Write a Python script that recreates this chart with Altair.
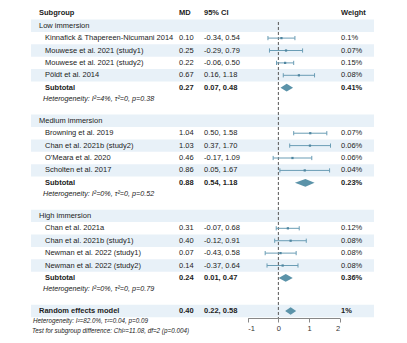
import altair as alt
import pandas as pd

# ---------------- data ----------------
group_names = ["Low immersion", "Medium immersion", "High immersion"]
study_names = [
    ["Kinnafick & Thapereen-Nicumani 2014", "Mouwese et al. 2021 (study1)",
     "Mouwese et al. 2021 (study2)", "Pöldt et al. 2014"],
    ["Browning et al. 2019", "Chan et al. 2021b (study2)",
     "O'Meara et al. 2020", "Scholten et al. 2017"],
    ["Chan et al. 2021a", "Chan et al. 2021b (study1)",
     "Newman et al. 2022 (study1)", "Newman et al. 2022 (study2)"],
]
study_md = [[0.10, 0.25, 0.22, 0.67], [1.04, 1.03, 0.46, 0.86], [0.31, 0.40, 0.07, 0.14]]
study_lo = [[-0.34, -0.29, -0.06, 0.16], [0.50, 0.37, -0.17, 0.05], [-0.07, -0.12, -0.43, -0.37]]
study_hi = [[0.54, 0.79, 0.50, 1.18], [1.58, 1.70, 1.09, 1.67], [0.68, 0.91, 0.58, 0.64]]
study_w = [["0.1%", "0.07%", "0.15%", "0.08%"], ["0.07%", "0.06%", "0.06%", "0.04%"],
           ["0.12%", "0.08%", "0.08%", "0.08%"]]
sub_md = [0.27, 0.88, 0.24]
sub_lo = [0.07, 0.54, 0.01]
sub_hi = [0.48, 1.18, 0.47]
sub_w = ["0.41%", "0.23%", "0.36%"]
het_text = ["Heterogeneity: I²=4%, τ²=0, p=0.38",
            "Heterogeneity: I²=0%, τ²=0, p=0.52",
            "Heterogeneity: I²=0%, τ²=0, p=0.79"]
overall_label = "Random effects model"
overall_md, overall_lo, overall_hi, overall_w = 0.40, 0.22, 0.58, "1%"
overall_notes = ["Heterogeneity: I²=82.0%, τ²=0.04, p=0.09",
                 "Test for subgroup difference: Chi²=11.08, df=2 (p=0.004)"]
headers = ["Subgroup", "MD", "95% CI", "Weight"]
x_ticks = [-1, 0, 1, 2]

# ---------------- layout (row units) ----------------
PERIOD = 7.67
HET_OFF = 5.93
rows = []
for g, gname in enumerate(group_names):
    base = g * PERIOD
    rows.append(dict(p=base, kind="group", name=gname, shaded=True))
    for i, s in enumerate(study_names[g]):
        rows.append(dict(p=base + 1 + i, kind="study", name=s, md=study_md[g][i],
                         lo=study_lo[g][i], hi=study_hi[g][i], w=study_w[g][i],
                         shaded=(i % 2 == 1)))
    rows.append(dict(p=base + 5, kind="subtotal", name="Subtotal", md=sub_md[g],
                     lo=sub_lo[g], hi=sub_hi[g], w=sub_w[g], shaded=False))
    rows.append(dict(p=base + HET_OFF, kind="het", name=het_text[g], shaded=False))
op = 3 * PERIOD
rows.append(dict(p=op, kind="overall", name=overall_label, md=overall_md,
                 lo=overall_lo, hi=overall_hi, w=overall_w, shaded=True))
rows.append(dict(p=op + 0.81, kind="note", name=overall_notes[0], shaded=False))
rows.append(dict(p=op + 1.62, kind="note2", name=overall_notes[1], shaded=False))
df = pd.DataFrame(rows)
df["mdt"] = df["md"].map(lambda v: f"{v:.2f}" if pd.notna(v) else "")
df["cit"] = df.apply(lambda r: f"{r['lo']:.2f}, {r['hi']:.2f}" if pd.notna(r["lo"]) else "", axis=1)
df["clo"] = df["p"] - 0.17
df["chi"] = df["p"] + 0.17
df["b0"] = df["p"] - 0.5
df["b1"] = df["p"] + 0.5

hdr = pd.DataFrame({"p": [-1.05], "a": [headers[0]], "b": [headers[1]],
                    "c": [headers[2]], "d": [headers[3]]})

# diamonds
dia = []
for _, r in df[df.kind.isin(["subtotal", "overall"])].iterrows():
    h = 0.31
    key = r["name"] + str(r["p"])
    dia += [dict(id=key, x=r["lo"], y=r["p"], y2=r["p"]),
            dict(id=key, x=r["md"], y=r["p"] - h, y2=r["p"] + h),
            dict(id=key, x=r["hi"], y=r["p"], y2=r["p"])]
dia = pd.DataFrame(dia)

# ---------------- scales ----------------
FONT = "Liberation Sans"
TXT = "#222222"
LINE = "#6a9db5"
DIA = "#5b93a9"
ys = alt.Scale(domain=[-2.073, 23.573], reverse=True, zero=False, nice=False)
xs = alt.Scale(domain=[-1, 2], range=[247.7, 339.7], zero=False, nice=False)
xaxis = alt.Axis(values=x_ticks, grid=False, title=None, tickSize=4,
                 labelFontSize=7.5, labelFont=FONT, labelColor="#333333",
                 domainColor="#888888", tickColor="#888888", labelPadding=2,
                 labelExpr="'' + datum.value", orient="bottom")


def X(field):
    return alt.X(field, scale=xs, axis=xaxis)


def Y(field):
    return alt.Y(field, scale=ys, axis=None)


base = alt.Chart(df)

bands = base.transform_filter("datum.shaded").mark_rect(color="#e8f1f8").encode(
    x=alt.value(31), x2=alt.value(374), y=Y("b0:Q"), y2="b1:Q")

zero_df = pd.DataFrame({"x": [0], "y": [-0.3], "y2": [23.573]})
zero = alt.Chart(zero_df).mark_rule(color="#555555", strokeDash=[3, 2], strokeWidth=1).encode(
    x=X("x:Q"), y=Y("y:Q"), y2="y2:Q")

studies = base.transform_filter("datum.kind == 'study'")
ci = studies.mark_rule(color=LINE, strokeWidth=1).encode(
    x=X("lo:Q"), x2="hi:Q", y=Y("p:Q"))
cap_l = studies.mark_rule(color=LINE, strokeWidth=1).encode(
    x=X("lo:Q"), y=Y("clo:Q"), y2="chi:Q")
cap_r = studies.mark_rule(color=LINE, strokeWidth=1).encode(
    x=X("hi:Q"), y=Y("clo:Q"), y2="chi:Q")
pts = studies.mark_square(color="#4f86a0", size=5, opacity=1).encode(
    x=X("md:Q"), y=Y("p:Q"))

diamonds = alt.Chart(dia).mark_area(color=DIA, opacity=1).encode(
    x=X("x:Q"), y=Y("y:Q"), y2="y2:Q", detail="id:N")


def tl(data, field, x, bold=False, italic=False, size=7.5, flt=None):
    c = alt.Chart(data)
    if flt:
        c = c.transform_filter(flt)
    return c.mark_text(align="left", baseline="middle", font=FONT, fontSize=size,
                       fontWeight="bold" if bold else "normal",
                       fontStyle="italic" if italic else "normal",
                       color=TXT).encode(
        x=alt.value(x), y=Y("p:Q"), text=f"{field}:N")


texts = [
    tl(hdr, "a", 39, bold=True), tl(hdr, "b", 179, bold=True),
    tl(hdr, "c", 204, bold=True), tl(hdr, "d", 341, bold=True),
    tl(df, "name", 39, flt="datum.kind == 'group'"),
    tl(df, "name", 45, flt="datum.kind == 'study'"),
    tl(df, "mdt", 179, flt="datum.kind == 'study'"),
    tl(df, "cit", 204, flt="datum.kind == 'study'"),
    tl(df, "w", 341, flt="datum.kind == 'study'"),
    tl(df, "name", 45, bold=True, flt="datum.kind == 'subtotal'"),
    tl(df, "mdt", 179, bold=True, flt="datum.kind == 'subtotal'"),
    tl(df, "cit", 204, bold=True, flt="datum.kind == 'subtotal'"),
    tl(df, "w", 341, bold=True, flt="datum.kind == 'subtotal'"),
    tl(df, "name", 43, italic=True, size=7.2, flt="datum.kind == 'het'"),
    tl(df, "name", 39, bold=True, flt="datum.kind == 'overall'"),
    tl(df, "mdt", 179, bold=True, flt="datum.kind == 'overall'"),
    tl(df, "cit", 204, bold=True, flt="datum.kind == 'overall'"),
    tl(df, "w", 341, bold=True, flt="datum.kind == 'overall'"),
    tl(df, "name", 33, italic=True, size=6.3, flt="datum.kind == 'note'"),
    tl(df, "name", 32, italic=True, size=6.3, flt="datum.kind == 'note2'"),
]

chart = alt.layer(bands, zero, ci, cap_l, cap_r, pts, diamonds, *texts).properties(
    width=407, height=318,
    autosize=alt.AutoSizeParams(type="none"),
    padding={"left": 0, "right": 0, "top": 0, "bottom": 25},
    background="white",
).configure_view(strokeWidth=0)

chart.save("out.html", embed_options={"renderer": "svg", "actions": False})
